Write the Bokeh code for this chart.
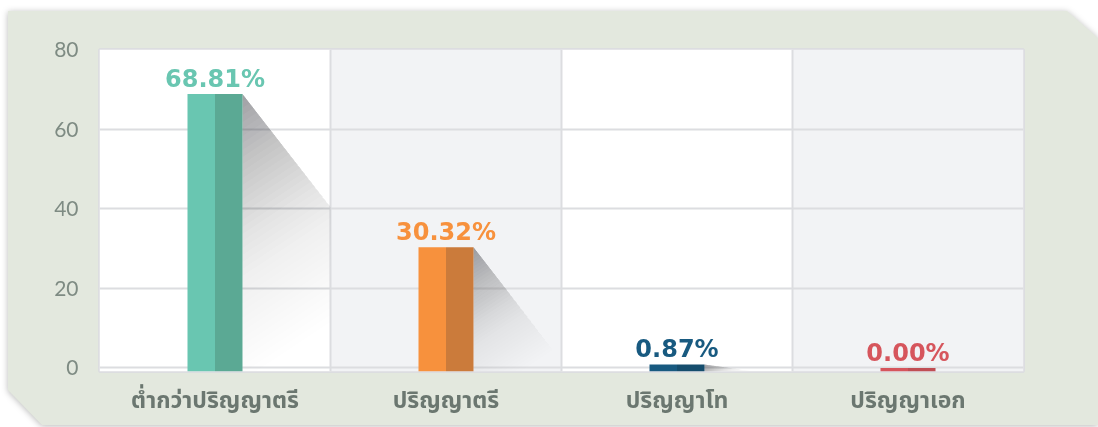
from bokeh.plotting import figure
from bokeh.models import Range1d, FixedTicker, ColumnDataSource
from bokeh.layouts import column
from bokeh.core.properties import value
from bokeh.embed import file_html
from bokeh.resources import INLINE

# ---- data ----
categories = ["ต่ำกว่าปริญญาตรี", "ปริญญาตรี", "ปริญญาโท", "ปริญญาเอก"]
percent = [68.81, 30.32, 0.87, 0.00]
y_ticks = [0, 20, 40, 60, 80]

# ---- style ----
light_cols = ["#69C6B1", "#F7913D", "#185A80", "#D6555C"]
dark_cols = ["#5BA994", "#CB7B3B", "#154D6D", "#C04E54"]
col_bg = ["#FFFFFF", "#F2F3F5", "#FFFFFF", "#F2F3F5"]
PANEL = "#E3E8DE"
GRID = "#DCDDE0"
W, H = 1098, 427
ML, MR, MT, MB = 99, 75, 49, 56
Y0 = -0.9
SX = (W - ML - MR) / 4.0
SY = (H - MT - MB) / (80 - Y0)
HW = 27.5 / SX

p = figure(width=W, height=H, output_backend="svg", toolbar_location=None,
           x_range=Range1d(0, 4), y_range=Range1d(Y0, 80),
           min_border_left=ML, min_border_right=MR, min_border_top=MT, min_border_bottom=MB,
           border_fill_color=PANEL, background_fill_color="white",
           outline_line_color=GRID, outline_line_width=3)

n = len(categories)
centers = [i + 0.5 for i in range(n)]

# column backgrounds
p.quad(left=list(range(n)), right=[i + 1 for i in range(n)], bottom=[Y0] * n, top=[80] * n,
       fill_color=col_bg, line_color=None, level="image")

# grids
p.xgrid.ticker = FixedTicker(ticks=[1, 2, 3])
p.ygrid.ticker = FixedTicker(ticks=y_ticks)
for g in (p.xgrid, p.ygrid):
    g.grid_line_color = GRID
    g.grid_line_width = 2


def clip(poly, a, b, c):
    out = []
    m = len(poly)
    for i in range(m):
        P = poly[i]
        Q = poly[(i + 1) % m]
        fp = a * P[0] + b * P[1] + c
        fq = a * Q[0] + b * Q[1] + c
        if fp >= 0:
            out.append(P)
        if (fp >= 0) != (fq >= 0):
            t = fp / (fp - fq)
            out.append((P[0] + t * (Q[0] - P[0]), P[1] + t * (Q[1] - P[1])))
    return out


# shadows (long-shadow effect; nested layers simulate a gradient without seams)
sx, sy, sa = [], [], []
NB = 48
ga, gb = 0.55, 0.83
AMAX = 0.5


def target(k):
    t = (k + 0.5) / NB
    return AMAX * (1 - t) ** 2.2


for i, v in enumerate(percent):
    if v <= 0:
        continue
    Xr = (centers[i] + HW) * SX
    Ht = (v - Y0) * SY
    L = max(Ht * 0.78, 2 * HW * SX)
    tri = [(Xr, Ht), (Xr + L, 0.0), (Xr, 0.0)]
    colR = (i + 1) * SX
    tri = clip(tri, -1, 0, colR)
    gvals = [ga * (X - Xr) + gb * (Ht - Y) for X, Y in tri]
    gmax = max(gvals)
    c0 = -ga * Xr + gb * Ht
    for j in range(NB - 1, -1, -1):
        g1 = gmax * (j + 1) / NB
        pl = clip(tri, -ga, gb, -c0 + g1)
        if len(pl) < 3:
            continue
        A = target(j)
        An = target(j + 1) if j + 1 < NB else 0.0
        a = 1 - (1 - A) / (1 - An)
        sx.append([X / SX for X, Y in pl])
        sy.append([Y / SY + Y0 for X, Y in pl])
        sa.append(a)

p.patches(xs="xs", ys="ys", source=ColumnDataSource(dict(xs=sx, ys=sy, a=sa)),
          fill_color="#55575F", fill_alpha="a", line_color=None)

# bars (two-tone)
p.quad(left=[c - HW for c in centers], right=centers, bottom=[Y0] * n, top=percent,
       fill_color=light_cols, line_color=None)
p.quad(left=centers, right=[c + HW for c in centers], bottom=[Y0] * n, top=percent,
       fill_color=dark_cols, line_color=None)

# value labels
p.text(x=centers, y=percent, text=[f"{v:.2f}%" for v in percent], text_color=light_cols,
       text_font=value("DejaVu Sans"), text_font_style="bold", text_font_size="24px",
       text_align="center", text_baseline="alphabetic", y_offset=-15)

# axes
p.xaxis.ticker = FixedTicker(ticks=centers)
p.xaxis.major_label_overrides = {c: cat for c, cat in zip(centers, categories)}
p.xaxis.major_label_text_font = "'Noto Sans Thai', 'Noto Sans', sans-serif"
p.xaxis.major_label_text_font_style = "bold"
p.xaxis.major_label_text_font_size = "23px"
p.xaxis.major_label_text_color = "#6B7770"
p.xaxis.major_label_standoff = 6
p.yaxis.ticker = FixedTicker(ticks=y_ticks)
p.yaxis.major_label_text_font = "Lato"
p.yaxis.major_label_text_font_size = "21px"
p.yaxis.major_label_text_color = "#7E8B83"
p.yaxis.major_label_standoff = 15
for ax in (p.xaxis, p.yaxis):
    ax.axis_line_color = None
    ax.major_tick_line_color = None
    ax.minor_tick_line_color = None

# panel shape with cut corners, and its soft shadow
p.styles = {"clip-path": "polygon(8px 11px, 1067px 11px, 1098px 38px, 1098px 425px, "
                         "42px 425px, 8px 390px)"}
layout = column(p, styles={"filter": "drop-shadow(0px 1px 3px rgba(0,0,0,0.28))"})

open("out.html", "w").write(file_html(layout, INLINE))
